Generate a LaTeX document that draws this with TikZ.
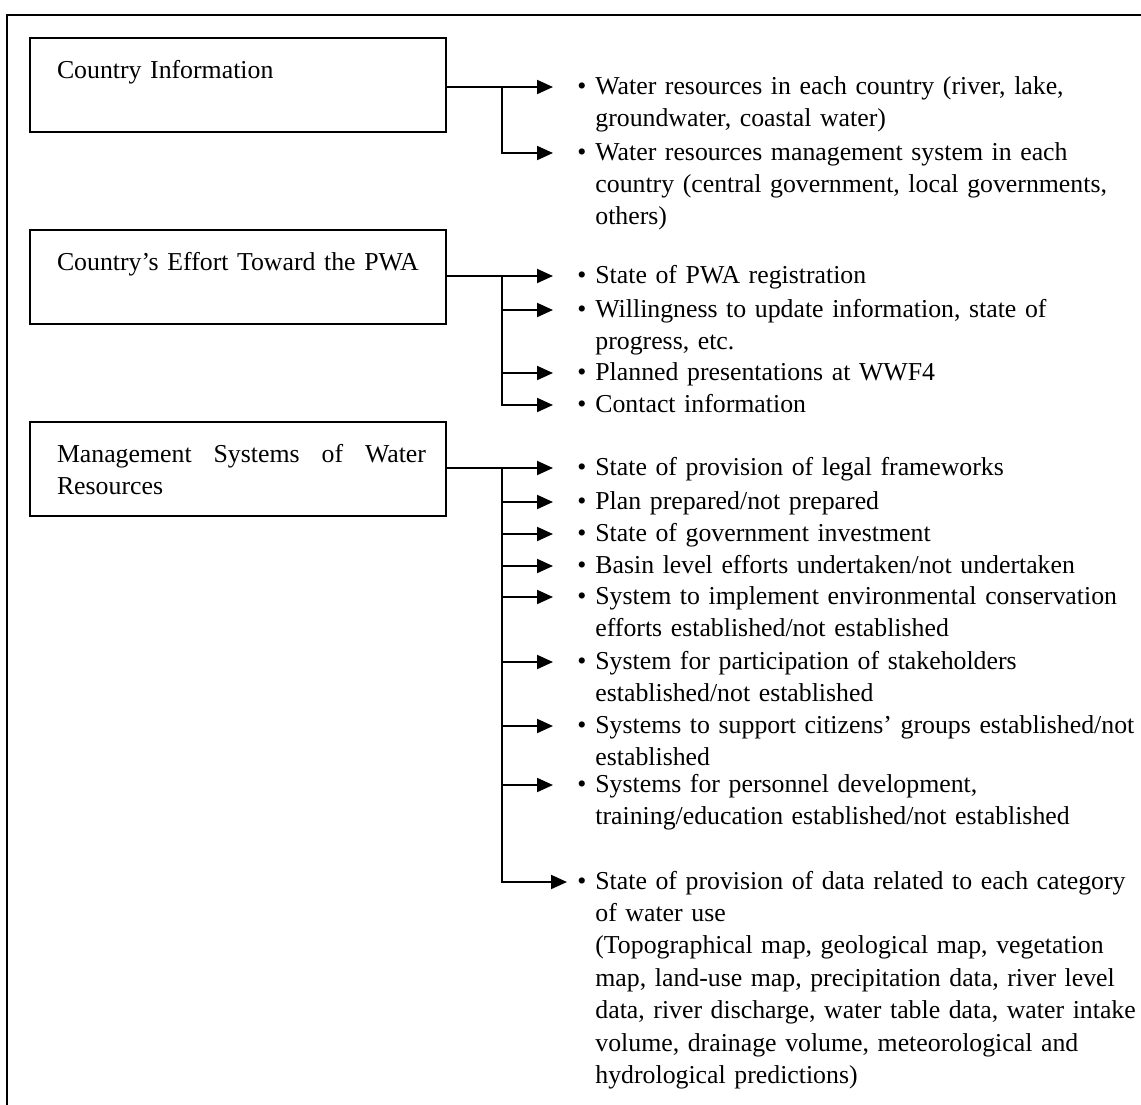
\documentclass[tikz,border=0pt]{standalone}
\usepackage{fontspec}
\setmainfont{Liberation Serif}
\usepackage{tikz}
\usetikzlibrary{arrows.meta}
\tikzstyle{box}=[draw, line width=1pt, anchor=north west, text width=181pt, inner xsep=13.5pt, inner ysep=11pt, text height=9pt, text depth=16pt]
\tikzstyle{item}=[anchor=base west, inner xsep=12pt, inner ysep=0pt, text width=300pt]
\tikzstyle{arr}=[line width=1pt, -{Triangle[length=8pt,width=7pt]}]
\newcommand{\bul}[1]{\makebox[9pt][l]{\textbullet}\parbox[t]{290pt}{#1}}
\begin{document}
\begin{tikzpicture}[x=0.5pt,y=-0.5pt,font=\fontsize{12.9pt}{16.2pt}\selectfont]
\useasboundingbox (0,0) rectangle (1141,1104);
\draw[line width=1pt] (7,1110) -- (7,15) -- (1150,15);
\node[box] (info) at (29,37) {Country Information};
\node[box] (effort) at (29,229) {\mbox{Country’s Effort Toward the PWA}};
\node[box] (msys) at (29,421) {\makebox[184.5pt][l]{Management\hfill Systems\hfill of\hfill Water}\newline Resources};
\node[item] (a1) at (553,94) {\bul{Water resources in each country (river, lake,\\ groundwater, coastal water)}};
\node[item] (a2) at (553,160) {\bul{Water resources management system in each\\ country (central government, local governments,\\ others)}};
\node[item] (b1) at (553,283) {\bul{State of PWA registration}};
\node[item] (b2) at (553,317) {\bul{Willingness to update information, state of\\ progress, etc.}};
\node[item] (b3) at (553,380) {\bul{Planned presentations at WWF4}};
\node[item] (b4) at (553,412) {\bul{Contact information}};
\node[item] (c1) at (553,475) {\bul{State of provision of legal frameworks}};
\node[item] (c2) at (553,509) {\bul{Plan prepared/not prepared}};
\node[item] (c3) at (553,541) {\bul{State of government investment}};
\node[item] (c4) at (553,573) {\bul{Basin level efforts undertaken/not undertaken}};
\node[item] (c5) at (553,604) {\bul{System to implement environmental conservation\\ efforts established/not established}};
\node[item] (c6) at (553,669) {\bul{System for participation of stakeholders\\ established/not established}};
\node[item] (c7) at (553,733) {\bul{Systems to support citizens’ groups established/not\\ established}};
\node[item] (c8) at (553,792) {\bul{Systems for personnel development,\\ training/education established/not established}};
\node[item] (c9) at (553,889) {\bul{State of provision of data related to each category\\ of water use\\ (Topographical map, geological map, vegetation\\ map, land-use map, precipitation data, river level\\ data, river discharge, water table data, water intake\\ volume, drainage volume, meteorological and\\ hydrological predictions)}};
\foreach \n in {a1,a2,b1,b2,b3,b4,c1,c2,c3,c4,c5,c6,c7,c8,c9}
  \coordinate (p\n) at ([yshift=3.5pt]\n.base west);
\coordinate (ta) at ([xshift=27.5pt]info.east);
\coordinate (tb) at ([xshift=27.5pt]effort.east);
\coordinate (tc) at ([xshift=27.5pt]msys.east);
\draw[arr] (info.east |- pa1) -- (pa1);
\draw[arr] (ta |- pa1) |- (pa2);
\draw[arr] (effort.east |- pb1) -- (pb1);
\foreach \k in {2,3}
  \draw[arr] (tb |- pb\k) -- (pb\k);
\draw[arr] (tb |- pb1) |- (pb4);
\draw[arr] (msys.east |- pc1) -- (pc1);
\foreach \k in {2,...,8}
  \draw[arr] (tc |- pc\k) -- (pc\k);
\draw[arr, shorten >=-7pt] (tc |- pc1) |- (pc9);
\end{tikzpicture}
\end{document}
